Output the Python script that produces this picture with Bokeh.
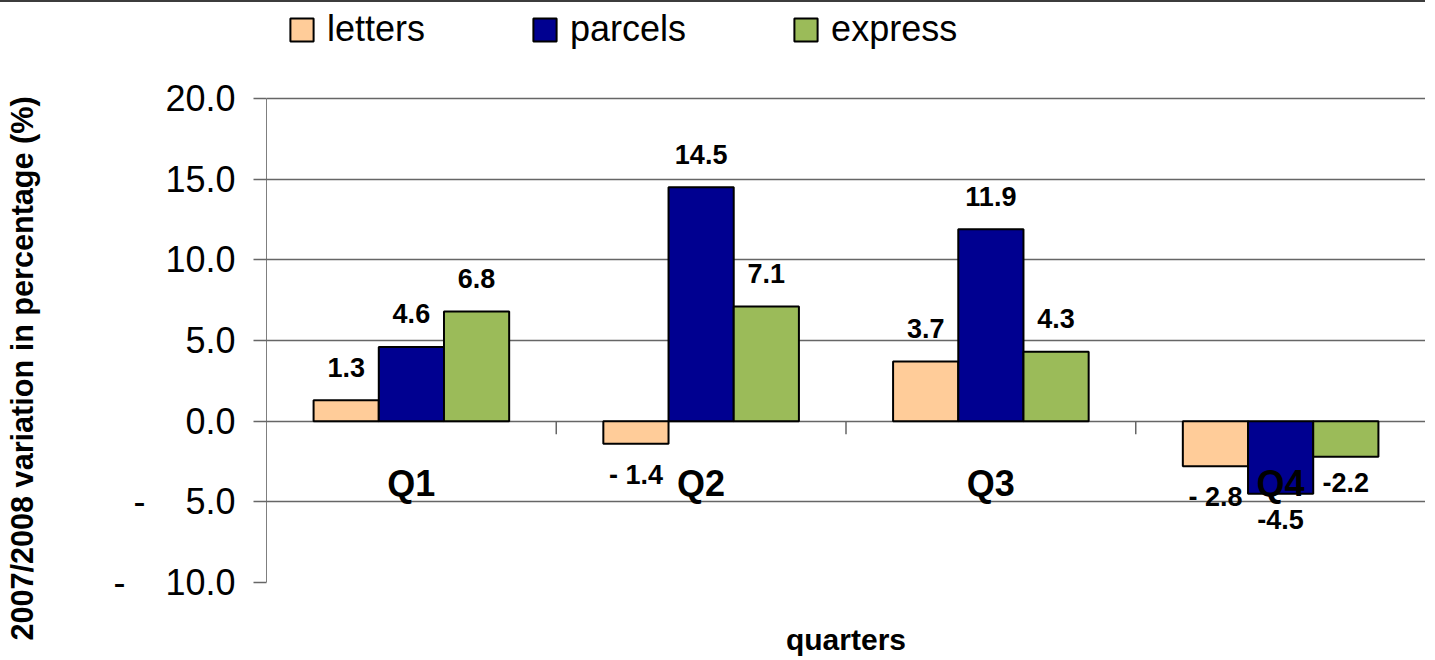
import math
from bokeh.plotting import figure
from bokeh.models import (ColumnDataSource, FactorRange, Range1d, FixedTicker,
                          Legend, LegendItem, Title)
from bokeh.transform import dodge
from bokeh.core.properties import value
from bokeh.embed import file_html
from bokeh.resources import INLINE

# ---------------- data ----------------
quarters = ["Q1", "Q2", "Q3", "Q4"]
series = ["letters", "parcels", "express"]
letters = [1.3, -1.4, 3.7, -2.8]
parcels = [4.6, 14.5, 11.9, -4.5]
express = [6.8, 7.1, 4.3, -2.2]
letters_labels = ["1.3", "- 1.4", "3.7", "- 2.8"]
parcels_labels = ["4.6", "14.5", "11.9", "-4.5"]
express_labels = ["6.8", "7.1", "4.3", "-2.2"]
colors = ["#FFCC99", "#000090", "#9BBB59"]
y_ticks = [-10, -5, 0, 5, 10, 15, 20]
y_tick_labels = ["-\u00a0\u00a0\u00a0\u00a010.0", "-\u00a0\u00a0\u00a0\u00a05.0",
                 "0.0", "5.0", "10.0", "15.0", "20.0"]
x_title = "quarters"
y_title = "2007/2008 variation in percentage (%)"

values = [letters, parcels, express]
labels = [letters_labels, parcels_labels, express_labels]

FONT = value("Liberation Sans")
BAR_W = 0.225
offsets = [-BAR_W, 0.0, BAR_W]
Y_TOP = 25.95  # extra room above 20 so the legend sits inside the frame

p = figure(width=1425, height=656, x_range=FactorRange(factors=quarters, range_padding=0),
           y_range=Range1d(min(y_ticks), Y_TOP), output_backend="svg", toolbar_location=None,
           min_border_left=266, min_border_right=0, min_border_top=0, min_border_bottom=76)
p.outline_line_color = None
p.xgrid.grid_line_color = None
p.ygrid.ticker = FixedTicker(ticks=y_ticks)
p.ygrid.grid_line_color = "#666666"
p.ygrid.grid_line_width = 1.5
p.styles = {"border-top": "2px solid #3c3c3c"}

# y axis
ya = p.yaxis[0]
ya.ticker = FixedTicker(ticks=y_ticks)
ya.major_label_overrides = {t: s for t, s in zip(y_ticks, y_tick_labels)}
ya.major_label_text_font = "Liberation Sans"
ya.major_label_text_font_size = "36px"
ya.major_label_text_color = "black"
ya.major_tick_out = 13
ya.major_tick_in = 0
ya.major_tick_line_color = "#666666"
ya.major_tick_line_width = 1.5
ya.minor_tick_line_color = None
ya.major_label_standoff = 18
ya.axis_line_color = None
# blank, tiny axis label only used as spacing; the visible title is a Title below
ya.axis_label = " "
ya.axis_label_text_font_size = "1px"
ya.axis_label_standoff = 68

p.add_layout(Title(text=y_title, align="left", offset=-58, standoff=0,
                   text_font="Liberation Sans", text_font_style="bold",
                   text_font_size="30.6px", text_color="black"), "left")

# value axis line, only over the tick span
p.segment(x0=[0], y0=[min(y_ticks)], x1=[0], y1=[max(y_ticks)],
          line_color="black", line_width=1)

# x axis (only the title is shown)
xa = p.xaxis[0]
xa.axis_line_color = None
xa.major_tick_line_color = None
xa.minor_tick_line_color = None
xa.major_label_text_font_size = "1px"
xa.major_label_text_color = None
xa.major_label_standoff = 0
xa.axis_label = x_title
xa.axis_label_text_font = "Liberation Sans"
xa.axis_label_text_font_style = "bold"
xa.axis_label_text_font_size = "30px"
xa.axis_label_text_color = "black"
xa.axis_label_standoff = 34

# bars
items = []
for name, vals, labs, col, off in zip(series, values, labels, colors, offsets):
    src = ColumnDataSource(dict(q=quarters, v=vals))
    r = p.vbar(x=dodge("q", off, range=p.x_range), top="v", bottom=0, width=BAR_W,
               source=src, fill_color=col, line_color="black", line_width=2)
    items.append(LegendItem(label=name, renderers=[r]))
    pos = ColumnDataSource(dict(q=[q for q, v in zip(quarters, vals) if v >= 0],
                                v=[v for v in vals if v >= 0],
                                t=[t for t, v in zip(labs, vals) if v >= 0]))
    neg = ColumnDataSource(dict(q=[q for q, v in zip(quarters, vals) if v < 0],
                                v=[v for v in vals if v < 0],
                                t=[t for t, v in zip(labs, vals) if v < 0]))
    p.text(x=dodge("q", off, range=p.x_range), y="v", text="t", source=pos,
           text_align="center", text_baseline="alphabetic", y_offset=-33,
           text_font=FONT, text_font_style="bold", text_font_size="27px", text_color="black")
    p.text(x=dodge("q", off, range=p.x_range), y="v", text="t", source=neg,
           text_align="center", text_baseline="top", y_offset=16,
           text_font=FONT, text_font_style="bold", text_font_size="27px", text_color="black")

# category boundary ticks on the zero line
bsrc = ColumnDataSource(dict(x=list(range(1, len(quarters))), y=[0] * (len(quarters) - 1)))
p.ray(x="x", y="y", length=13, length_units="screen", angle=-math.pi / 2,
      source=bsrc, line_color="#666666", line_width=1.5)

# category labels below the zero line
qsrc = ColumnDataSource(dict(q=quarters, base=[0] * len(quarters)))
p.text(x="q", y="base", text="q", source=qsrc, text_align="center", text_baseline="middle",
       y_offset=62, text_font=FONT, text_font_style="bold", text_font_size="36px",
       text_color="black")

legend = Legend(items=items, orientation="horizontal", location=(21, 532),
                label_text_font="Liberation Sans", label_text_font_size="36px",
                label_text_color="black", glyph_width=29, glyph_height=29,
                label_standoff=11, spacing=105, padding=0, margin=0,
                border_line_color=None, background_fill_alpha=0)
p.add_layout(legend)

open("out.html", "w").write(file_html(p, INLINE))
